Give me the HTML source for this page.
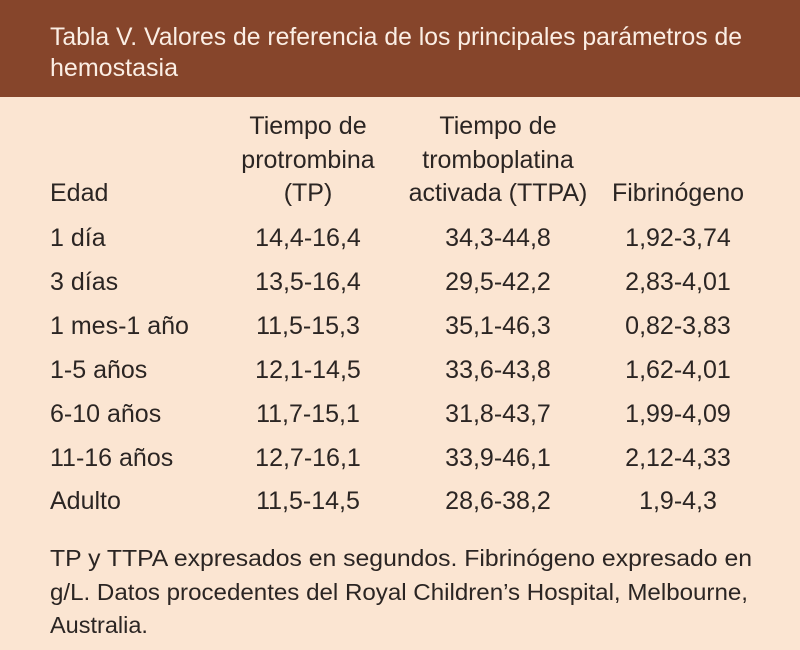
<!DOCTYPE html>
<html><head><meta charset="utf-8"><style>
html,body{margin:0;padding:0;width:800px;height:650px;overflow:hidden;background:#fbe5d2}
svg{display:block}
text{font-family:"Liberation Sans",sans-serif;fill:#2b2523}
</style></head><body>
<svg width="800" height="650" viewBox="0 0 800 650" xmlns="http://www.w3.org/2000/svg">
<rect x="0" y="0" width="800" height="650" fill="#fbe5d2"/>
<rect x="0" y="0" width="800" height="97" fill="#86452b"/>
<g font-size="25" style="fill:#fbeee4">
<text x="50" y="45" textLength="692" lengthAdjust="spacingAndGlyphs" style="fill:#fbeee4">Tabla V. Valores de referencia de los principales parámetros de</text>
<text x="50" y="76" textLength="128" lengthAdjust="spacingAndGlyphs" style="fill:#fbeee4">hemostasia</text>
</g>
<g font-size="25">
<text x="308" y="134" text-anchor="middle">Tiempo de</text>
<text x="308" y="168" text-anchor="middle">protrombina</text>
<text x="308" y="201" text-anchor="middle">(TP)</text>
<text x="498" y="134" text-anchor="middle">Tiempo de</text>
<text x="498" y="168" text-anchor="middle">tromboplatina</text>
<text x="498" y="201" text-anchor="middle">activada (TTPA)</text>
<text x="50" y="201">Edad</text>
<text x="678" y="201" text-anchor="middle">Fibrinógeno</text>

<text x="50" y="246">1 día</text>
<text x="308" y="246" text-anchor="middle">14,4-16,4</text>
<text x="498" y="246" text-anchor="middle">34,3-44,8</text>
<text x="678" y="246" text-anchor="middle">1,92-3,74</text>

<text x="50" y="290">3 días</text>
<text x="308" y="290" text-anchor="middle">13,5-16,4</text>
<text x="498" y="290" text-anchor="middle">29,5-42,2</text>
<text x="678" y="290" text-anchor="middle">2,83-4,01</text>

<text x="50" y="334">1 mes-1 año</text>
<text x="308" y="334" text-anchor="middle">11,5-15,3</text>
<text x="498" y="334" text-anchor="middle">35,1-46,3</text>
<text x="678" y="334" text-anchor="middle">0,82-3,83</text>

<text x="50" y="378">1-5 años</text>
<text x="308" y="378" text-anchor="middle">12,1-14,5</text>
<text x="498" y="378" text-anchor="middle">33,6-43,8</text>
<text x="678" y="378" text-anchor="middle">1,62-4,01</text>

<text x="50" y="422">6-10 años</text>
<text x="308" y="422" text-anchor="middle">11,7-15,1</text>
<text x="498" y="422" text-anchor="middle">31,8-43,7</text>
<text x="678" y="422" text-anchor="middle">1,99-4,09</text>

<text x="50" y="466">11-16 años</text>
<text x="308" y="466" text-anchor="middle">12,7-16,1</text>
<text x="498" y="466" text-anchor="middle">33,9-46,1</text>
<text x="678" y="466" text-anchor="middle">2,12-4,33</text>

<text x="50" y="509">Adulto</text>
<text x="308" y="509" text-anchor="middle">11,5-14,5</text>
<text x="498" y="509" text-anchor="middle">28,6-38,2</text>
<text x="678" y="509" text-anchor="middle">1,9-4,3</text>
</g>
<g font-size="23.5">
<text x="50" y="566" textLength="702" lengthAdjust="spacingAndGlyphs">TP y TTPA expresados en segundos. Fibrinógeno expresado en</text>
<text x="50" y="600" textLength="698" lengthAdjust="spacingAndGlyphs">g/L. Datos procedentes del Royal Children’s Hospital, Melbourne,</text>
<text x="50" y="633">Australia.</text>
</g>
</svg>
</body></html>
